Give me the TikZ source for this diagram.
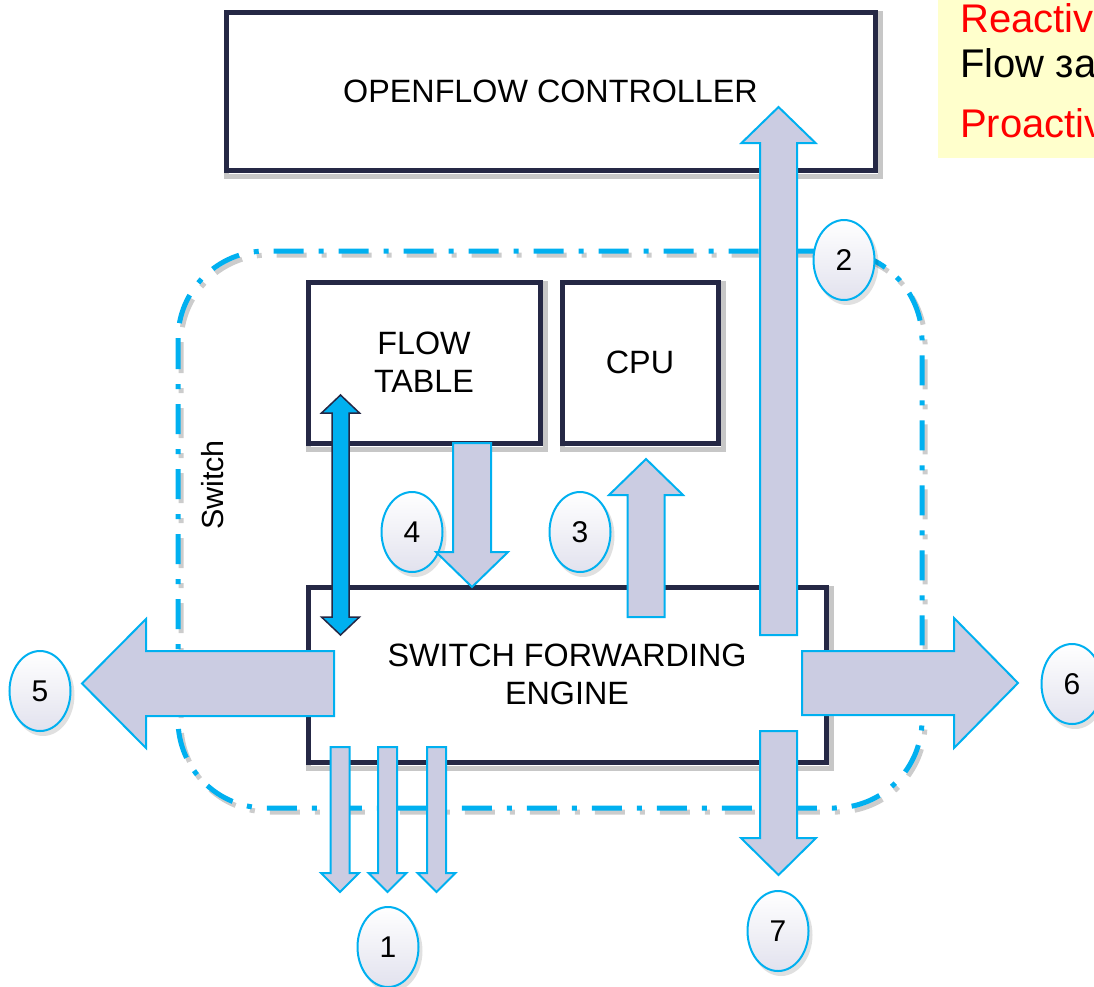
\documentclass[tikz,border=0pt]{standalone}
\usepackage{fontspec}
\setmainfont{Liberation Sans}
\usetikzlibrary{shapes.geometric,backgrounds}
\definecolor{navy}{RGB}{37,40,69}
\definecolor{cyanb}{RGB}{0,176,240}
\definecolor{lav}{RGB}{203,204,226}
\definecolor{paleyellow}{RGB}{255,255,204}
\definecolor{bubblebot}{RGB}{226,226,238}
\tikzset{
  box/.style={draw=navy, line width=5pt, fill=white, align=center, inner sep=0pt, font=\fontsize{32.3}{38}\selectfont},
  boxshadow/.style={draw=black, opacity=0.22, line width=5pt},
  blockarrow/.style={draw=cyanb, fill=lav, line width=2pt, line join=miter},
  bluearrow/.style={draw=navy, fill=cyanb, line width=1.5pt, line join=miter},
  bubble/.style={ellipse, draw=cyanb, line width=2pt, top color=white, bottom color=bubblebot, minimum width=61pt, minimum height=80pt, inner sep=0pt, font=\fontsize{30}{36}\selectfont},
  bubbleshadow/.style={ellipse, fill=black, opacity=0.12, minimum width=63pt, minimum height=82pt, inner sep=0pt},
  switchline/.style={draw=cyanb, line width=5pt, rounded corners=88pt, dash pattern=on 30pt off 15pt on 5pt off 15pt},
  switchshadow/.style={draw=black, opacity=0.2, line width=5pt, rounded corners=88pt, dash pattern=on 30pt off 15pt on 5pt off 15pt},
  notetext/.style={anchor=base west, inner sep=0pt, font=\fontsize{40}{48}\selectfont},
}
% vertical block arrow: centre x, half shaft, half head, tail y, head-base y, tip y
\newcommand{\myVArrow}[6]{%
  \draw[blockarrow] ({#1-#2},#4) -- ({#1-#2},#5) -- ({#1-#3},#5) -- (#1,#6) -- ({#1+#3},#5) -- ({#1+#2},#5) -- ({#1+#2},#4) -- cycle;}
% horizontal block arrow: centre y, half shaft, half head, tail x, head-base x, tip x
\newcommand{\myHArrow}[6]{%
  \draw[blockarrow] (#4,{#1-#2}) -- (#5,{#1-#2}) -- (#5,{#1-#3}) -- (#6,#1) -- (#5,{#1+#3}) -- (#5,{#1+#2}) -- (#4,{#1+#2}) -- cycle;}
\begin{document}
\begin{tikzpicture}[x=1pt,y=-1pt]
\useasboundingbox (0,0) rectangle (1094,986);
\clip (0,0) rectangle (1094,986);

% note box (top right)
\node[fill=paleyellow, minimum width=156pt, minimum height=158pt, anchor=north west, inner sep=0pt] (note) at (938,0) {};
\node[notetext, text=red] (reactive) at (960,32) {Reactiv};
\node[notetext, text=black] (flow) at (960,77) {Flow за};
\node[notetext, text=red] (proactive) at (960,137) {Proactiv};

% boxes
\node[box, minimum width=649pt, minimum height=158pt] (ctrl) at (550.5,91) {OPENFLOW CONTROLLER};
\node[box, minimum width=232pt, minimum height=161pt] (ftab) at (424,362.5) {FLOW\\TABLE};
\node[box, minimum width=156pt, minimum height=161pt] (cpu) at (640,362.5) {CPU};
\node[box, minimum width=518pt, minimum height=175pt] (sfe) at (567,674.5) {SWITCH FORWARDING\\ENGINE};

\begin{scope}[on background layer]
  \draw[switchshadow] (181,255) rectangle (925,812);
  \draw[switchline] (178,251) rectangle (922,808);
  \foreach \n in {ctrl,ftab,cpu,sfe}
    \draw[boxshadow] ([shift={(3,4)}]\n.south west) rectangle ([shift={(3,4)}]\n.north east);
\end{scope}

\node[rotate=90, inner sep=0pt, font=\fontsize{30.5}{36}\selectfont] (swlabel) at (213,485) {Switch};

% bubble shadows
\foreach \bx/\by in {388/947,844/260,580/532,412/532,40/691,1072/684,778/931}
  \node[bubbleshadow] at ({\bx+3},{\by+4}) {};

% bubbles
\node[bubble] (b1) at (388,947) {1};
\node[bubble] (b2) at (844,260) {2};
\node[bubble] (b3) at (580,532) {3};
\node[bubble] (b4) at (412,532) {4};
\node[bubble] (b5) at (40,691) {5};
\node[bubble] (b6) at (1072,684) {6};
\node[bubble] (b7) at (778,931) {7};

% block arrows
\myVArrow{778.5}{18.5}{37}{635}{143}{107}   % 2 up to controller
\myVArrow{472}{19}{36}{443}{552}{587}       % 4 down
\myVArrow{646}{18.5}{37}{617}{495}{459}     % 3 up
\myVArrow{778.5}{18.5}{37.5}{731}{838}{875} % 7 down
\myHArrow{683.5}{32.5}{64.5}{334}{146}{82}  % 5 left
\myHArrow{683}{32}{65}{802}{954}{1018}      % 6 right
\myVArrow{340}{9.5}{19}{747}{873}{892}      % 1
\myVArrow{387.5}{9.5}{19}{747}{873}{892}
\myVArrow{436.5}{9.5}{19}{747}{873}{892}

% blue double arrow between flow table and engine
\draw[bluearrow] (340.5,395) -- (359.5,413) -- (349,413) -- (349,617) -- (359.5,617) -- (340.5,635)
  -- (321.5,617) -- (332,617) -- (332,413) -- (321.5,413) -- cycle;
\end{tikzpicture}
\end{document}
